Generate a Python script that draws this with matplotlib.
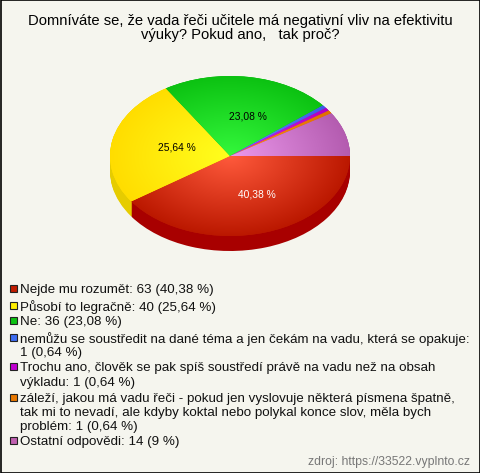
import numpy as np
import matplotlib
matplotlib.use("Agg")
import matplotlib.pyplot as plt
from matplotlib.patches import Rectangle
from matplotlib.colors import LinearSegmentedColormap

title_lines = ["Domníváte se, že vada řeči učitele má negativní vliv na efektivitu",
               "výuky? Pokud ano,   tak proč?"]
values = [63, 40, 36, 1, 1, 1, 14]
pct_labels = ["40,38 %", "25,64 %", "23,08 %", "", "", "", ""]
legend_lines = [
    ["Nejde mu rozumět: 63 (40,38 %)"],
    ["Působí to legračně: 40 (25,64 %)"],
    ["Ne: 36 (23,08 %)"],
    ["nemůžu se soustředit na dané téma a jen čekám na vadu, která se opakuje:", "1 (0,64 %)"],
    ["Trochu ano, člověk se pak spíš soustředí právě na vadu než na obsah", "výkladu: 1 (0,64 %)"],
    ["záleží, jakou má vadu řeči - pokud jen vyslovuje některá písmena špatně,",
     "tak mi to nevadí, ale kdyby koktal nebo polykal konce slov, měla bych", "problém: 1 (0,64 %)"],
    ["Ostatní odpovědi: 14 (9 %)"],
]
source = "zdroj: https://33522.vyplnto.cz"
inner = ["#ff5a3c", "#ffff1e", "#34f83c", "#6a86ff", "#e020e8", "#ff9020", "#ec98ec"]
outer = ["#bb1800", "#ffdd00", "#0cc212", "#3c5ce8", "#b000c0", "#e07000", "#b45cb0"]
side = ["#a80000", "#e6cc00", "#0a9a0a", "#3050c0", "#900090", "#c06000", "#904890"]
legend_col = ["#c01c00", "#ffee00", "#0cc212", "#3c6cf0", "#c000d0", "#e87800", "#c060b0"]
bg = "#f5f5ee"

W, H = 480, 473
fig = plt.figure(figsize=(W / 100, H / 100), dpi=100, facecolor=bg)
plt.rcParams["font.family"] = ["Liberation Sans", "DejaVu Sans"]
page = fig.add_axes([0, 0, 1, 1])
page.set_xlim(0, W)
page.set_ylim(H, 0)
page.axis("off")
page.add_patch(Rectangle((0.5, 0.5), W - 1, H - 1, fc="none", ec="#000000", lw=1.2))

for i, line in enumerate(title_lines):
    page.text(240.5, 21 + 14.5 * i, line, ha="center", va="center", fontsize=10.65, color="#000000")

ax = fig.add_axes([(230 - 120) / W, 1 - (156 + 80) / H, 240 / W, 160 / H])
depth = 15 / 80
for off in np.linspace(depth, 0.004, 16):
    ax.pie(values, colors=side, startangle=0, counterclock=False, radius=1, center=(0, -off),
           wedgeprops=dict(lw=0), frame=False)
wedges, _ = ax.pie(values, colors=outer, startangle=0, counterclock=False, radius=1,
                   center=(0, 0), wedgeprops=dict(lw=0), frame=False)
xx, yy = np.meshgrid(np.linspace(-1, 1, 300), np.linspace(1, -1, 300))
rr = np.clip(np.hypot(xx, yy), 0, 1)
for w, a, b in zip(wedges, inner, outer):
    cmap = LinearSegmentedColormap.from_list("g", [a, b])
    im = ax.imshow(rr, cmap=cmap, vmin=0, vmax=1, extent=(-1, 1, -1, 1), zorder=3, aspect="auto")
    im.set_clip_path(w)
ax.set_xlim(-1, 1)
ax.set_ylim(-1 - depth - 0.02, 1)
ax.set_position([(230 - 120) / W, 1 - (156 + 80 + 16.6) / H, 240 / W, (160 + 16.6) / H])
ax.set_aspect("auto")
ax.axis("off")

total = sum(values)
cum = 0
for v, lab in zip(values, pct_labels):
    mid = -(cum + v / 2) / total * 2 * np.pi
    cum += v
    if lab:
        col = "white" if lab.startswith("40") else "black"
        ax.text(0.52 * np.cos(mid) + 0.067, 0.5 * np.sin(mid), lab, ha="center", va="center",
                fontsize=7.4, color=col, zorder=5)

ys = [[289], [305.5], [321], [337.3, 351.7], [367, 381.7], [397.7, 411.7, 425.7], [441]]
for lines, yl, c in zip(legend_lines, ys, legend_col):
    page.add_patch(Rectangle((9.5, yl[0] - 3.7), 7, 7, fc=c, ec="#222222", lw=0.8))
    for t, y in zip(lines, yl):
        page.text(20.3, y + 1.3, t, ha="left", va="center", fontsize=9.65, color="#111111")

page.text(470, 462, source, ha="right", va="center", fontsize=8.8, color="#777777")
fig.savefig("out.png", dpi=100, facecolor=bg)
